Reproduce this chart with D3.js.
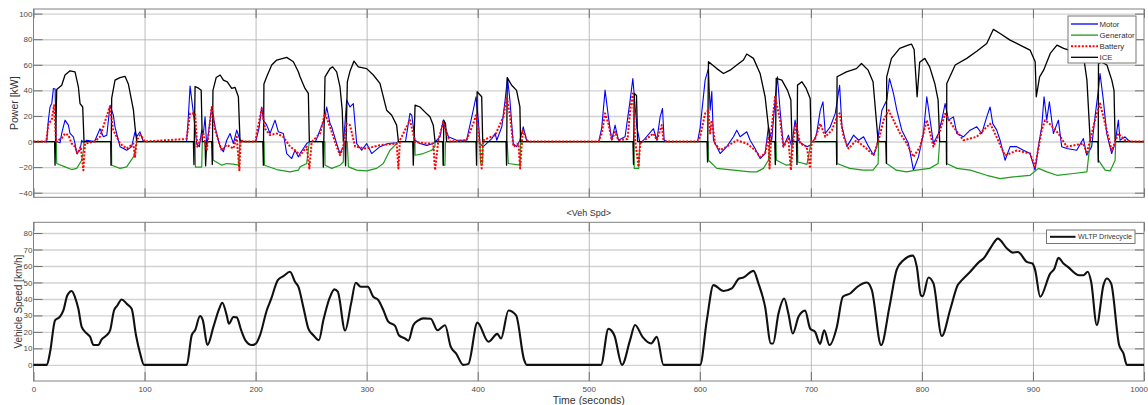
<!DOCTYPE html>
<html>
<head>
<meta charset="utf-8">
<script src="https://cdn.jsdelivr.net/npm/d3@7"></script>
<style>
  body { margin: 0; background: #fff; }
  text { font-family: "Liberation Sans", Arial, sans-serif; }
</style>
</head>
<body>
<svg id="chart" width="1148" height="405"></svg>
<script>
"use strict";

// ---- data: [time s, value] ----
const timeTicks = [0, 100, 200, 300, 400, 500, 600, 700, 800, 900, 1000];
const powerTicks = [-40, -20, 0, 20, 40, 60, 80, 100];
const speedTicks = [0, 10, 20, 30, 40, 50, 60, 70, 80];
const powerNames = ["Motor", "Generator", "Battery", "ICE"];

const motorData = [[0,0],[11.9,0],[13.4,16.7],[14.9,27],[16.5,30],[17.9,41.5],[19.5,41],[20.3,0],[23.9,-1],[25.4,6.3],[28.4,16.7],[31.4,12.8],[32.9,6.3],[35.9,3.7],[37.4,-1.6],[38.9,-9.4],[41.9,-6.8],[43.4,1],[44.9,-1],[47.9,1],[55,0],[59.9,10],[62.9,3.7],[66,5],[68.9,28.4],[71.9,20.6],[73.4,11.5],[77.9,-4],[83.9,-6.8],[88.4,-4],[91.4,7.6],[92.9,3.7],[95.9,7.6],[97.4,3.7],[98.9,0],
  [137.9,0],[139.5,20],[141,43.3],[144,22],[147,-1.6],[149.4,-4],[151.5,8.9],[153,6.3],[154.5,19.3],[156,-4],[158,10],[160.5,27],[163.5,11.5],[168,-4],[171,-8],[174,1],[177,6.3],[180,-1.6],[183,8.9],[186,1],[189,0],
  [200,0],[203,10],[205.5,27],[207,16.7],[210,12.8],[213,6.3],[217.5,16.7],[220.5,7.6],[225,6.3],[228,-9.4],[232.5,-13.3],[235.5,-6.8],[238.5,-12],[240,-9.4],[243,-5.5],[246,-1.6],[249,0],
  [254,0],[258,8.9],[262.5,19.3],[264,27],[267,14],[268.5,11.5],[273,-1.6],[276,-9.4],[279,-4],[282,32.4],[285,27],[288,29.7],[291,-1.6],[295.5,-6.8],[300,-1.6],[304.5,-9.4],[312,-4],[319.5,-1.6],[327,-1],[329,0],
  [335,0],[339,22],[340.6,20.6],[343.6,1],[348,-1.6],[354,-3],[360,-1.6],[366,3.7],[369,16.7],[370.6,11.5],[373.6,3.7],[381,1],[390,1],[396,24.5],[398.5,35],[400.6,16.7],[402,-1.6],[405,-4],[412.7,2.3],[415.7,6.3],[417.2,1],[421.7,11.5],[424.7,32.4],[426.8,50],[429,32.4],[432,-1.6],[435,-4],[438,1],[441,11.5],[444,1],[446,0],
  [509,0],[511.7,10.7],[514.7,40.2],[517.7,19.3],[520.7,1],[523.7,12.8],[526.7,1],[532.7,3.7],[537.3,32.4],[539.7,49.3],[543.3,11.5],[546.3,-1.6],[549.3,1],[558.3,10],[561.3,1],[564.3,19.3],[566.4,25.8],[567.9,1],[570,0],
  [598,0],[600.3,10.7],[604.8,48],[607.8,57],[609.3,24.5],[610.8,39],[612.3,1],[615.3,-4],[618.3,-9.4],[624.3,-4],[630.3,3.7],[633.3,8.9],[636.3,3.7],[642.3,7.6],[645.3,1],[649.8,-5.5],[654.3,-13.3],[658.8,-9.4],[661.8,11.5],[664.8,1],[667.8,32.4],[669.9,50.6],[672.3,24.5],[675.3,-4],[679.8,5],[682.8,-4],[685.8,16.7],[688.8,1],[691.8,-1.6],[696.3,-4],[699.3,-3],[700.8,0],
  [702,0],[705,5],[708.5,24.5],[710.9,31],[713,6.3],[717.5,11.5],[722,22],[725.9,44],[728,11.5],[732.5,-4],[738.5,5],[743,1],[747.5,3.7],[752,-4],[756.5,-10.7],[759.4,-4],[764,24.5],[768.4,32.4],[770.8,49.3],[774.4,37.6],[777.4,24.5],[781.9,8.9],[787.9,-1.6],[792.4,-22.4],[796.9,-12],[801.4,6.3],[804.4,35],[807.4,16.7],[810.4,-1.6],[814.9,6.3],[817.9,16.7],[820.9,29.7],[823.9,16.7],[828.4,19.3],[831.4,6.3],[837.4,3.7],[843.4,8.9],[849.4,11.5],[853.9,6.3],[858.4,19.3],[861.4,27],[863.8,14],[867.4,8.9],[870.4,1],[874.9,-14.6],[879.4,-4],[885.4,-4],[891.4,-6.8],[897.4,-9.4],[901.9,-22.4],[904.9,-4],[907.9,11.5],[910,35],[912.4,16.7],[914.8,31],[918.4,6.3],[922.9,16.7],[925.9,-4],[930.4,-5.5],[939.4,-6.8],[945.4,2.3],[948.4,-10.7],[952.9,-4],[955.9,19.3],[958.9,40.2],[960.4,53.2],[963.4,32.4],[966.4,6.3],[970.9,-9.4],[973.9,-1.6],[976.9,16.7],[978.4,1],[982.9,3.7],[985.9,1],[988,0],[1000,0]];

const generatorData = [[0,0],[20.5,0],[20.9,-17.2],[28.4,-19.8],[34.4,-21.9],[38.9,-21],[43.4,-14.6],[44.8,-8],[45.5,0],
  [70.2,0],[70.4,-18.5],[77.9,-21],[83.9,-19.8],[90,-12],[91.4,-8],[93,0],
  [145.5,0],[145.8,-20],[151.5,-20],[152,0],[161.5,0],[161.9,-14.6],[169.5,-18.5],[174,-17.2],[180,-17.7],[184.5,-18.5],[186,0],
  [207.5,0],[208,-18.5],[219,-21.9],[231,-23.7],[238.6,-22.4],[240,-19.8],[246,-17.2],[248.4,0],
  [262.4,0],[262.5,-18.5],[268.5,-21],[276,-18.5],[279,-16],[279.3,0],
  [282.5,0],[283.6,-19.8],[291,-22.4],[300,-23],[309,-21],[315,-17.2],[321,-6.8],[327,-1.6],[328.6,0],
  [343.5,0],[343.6,-10.7],[351,-9.4],[358.5,-6.8],[361.5,-4],[361.6,0],
  [368.8,0],[369,-18.5],[370.5,-18.5],[371,0],
  [402,0],[402.5,-17],[404.5,-17],[404.6,0],
  [426.5,0],[427.6,-17.2],[438,-18.5],[438.6,0],
  [540.5,0],[541,-21],[545,-21],[546,0],
  [607.5,0],[607.8,-14.6],[615.3,-21],[630.3,-22.4],[645.3,-23.7],[651.3,-23.7],[657.3,-21],[661.8,-14.6],[663,0],
  [668.5,0],[669,-14.6],[678,-18.5],[682,-18],[683,0],
  [688,0],[688.3,-16],[696.5,-17.8],[700.3,0],
  [723.5,0],[723.6,-17.2],[735,-21],[747,-22.4],[756,-22.4],[760.6,-17.2],[761,0],
  [768,0],[768.3,-17.2],[777,-22.4],[786,-23.7],[795,-22.4],[807,-21],[814.6,-17.2],[816,0],
  [822.3,0],[822.4,-17.2],[831.5,-21],[843.5,-22.4],[858.4,-26.4],[870.4,-29],[882.4,-27.7],[897.4,-26.4],[905,-21],[912.6,-23.7],[921.6,-26.4],[936.6,-25],[948.6,-23.7],[951.6,0],
  [958.8,0],[959,-14.6],[965,-22.4],[969.5,-23],[974,-14.6],[974.5,0],[1000,0]];

const batteryData = [[0,0],[11.5,0],[13.4,14],[16.4,16.7],[18.5,28.4],[20.3,0],[25.4,2.6],[28.4,6.3],[31.4,5],[34.4,-1.6],[37.4,-4],[39.5,-9.4],[42.5,-4],[44.9,-22.4],[46.4,-1.6],[55,0],[59.9,3.7],[68.6,27],[71.9,8.9],[77.9,-1.6],[83.9,-5.5],[89.9,-1.6],[91.4,-12],[92.9,1],[95.9,5],[98.9,2.3],[100,0],
  [137.9,2],[141,22],[145.5,22],[147.5,-4],[150,1],[153,6.3],[156,-7],[160.5,27],[163.5,8.9],[169.5,-7],[174,-2.6],[180,-5.5],[183,3.7],[185.4,-22.4],[186.5,1],[190,0],
  [200,0],[201,6.3],[205.5,25.8],[208.5,10],[213,5],[219,6.3],[225,3.7],[231,-4],[235.5,-6.8],[238.5,-9.4],
  [240,-11],[246,-4],[248.4,-21],[250.5,-0.3],[258,6.3],[262.5,22],[267,11.5],[273,-4],[276,-10.7],[279,-4],[282,14],[285,12.8],[289.6,-4],[300,-5.5],[312,-2.8],[327,-1.6],[328.6,-21],[330,1],[339,16.7],[343.6,-0.3],[354,-1.6],[360,-1.6],[361.6,-22.4],[364.6,1],[369,15.4],[372,6.3],[375,0],[390,1],[396,14],[398.5,20.6],[400.6,8.9],[402,-4],[403.6,-21],[405,1],[415.7,5],[423.2,19.3],[426.2,35],[429.2,19.3],[432.2,-4],[436.7,-1.6],[438.2,-21],[440.6,8.9],[444.2,1],[447,0],
  [509,0],[511.7,6.3],[514.7,22],[517.7,14],[520.7,1],[523.7,7.6],[526.7,1],[535,2],[537.3,24.5],[539.7,37.6],[541.8,1],[544.8,-19.8],[546.3,-1.6],[558.3,6.3],[561.3,1],[565.8,12.8],[567.3,1],[570,0],
  [598,0],[600.3,3.7],[604.8,22],[607.8,24.5],[609.3,6.3],[610.8,16.7],[613.8,-1.6],[618.3,-6.8],[624.3,-4],[633.3,1],[642.3,-1.6],[649.8,-6.8],[654.3,-12],[658.8,-9.4],[661.8,3.7],[662.8,-21],[664.8,11.5],[667.8,35],[672.3,16.7],[675.3,-4],[679.8,2.3],[682,-22.4],[684.3,1],[686.7,14],[690.3,-1.6],[696.3,-4],[699.3,-21],[700.8,1],[703,0],
  [708.5,14],[713,3.7],[719,8.9],[723.5,19.3],[725.9,22],[729.5,3.7],[734,-5.5],[741,1],[750,-5.5],[756.5,-10.7],[761,1],[765.5,16.7],[770,24.5],[774.4,16.7],[780.4,6.3],[786.4,-1.6],[792.4,-12],[798.4,-4],[804.4,16.7],[810.4,-4],[815.5,6.3],[820.9,21.7],[828.4,11.5],[837.4,1],[849.4,3.7],[861.4,14],[864.4,8.9],[874.9,-11],[885.4,-7],[897.4,-9.4],[901.9,-19.8],[907.9,8.9],[910.9,16.7],[914.8,14],[922.9,6.3],[930.4,-4],[945.4,-1.6],[948.4,-9.4],[955.9,16.7],[960.4,29.7],[965,14],[970.9,-7],[976.9,6.3],[982.9,1],[988,0],[1000,0]];

const iceData = [[0,0],[19,0],[19.4,-18.5],[20.9,40.7],[25.4,44],[28.4,52],[32.9,55.3],[37.4,54.5],[40.4,42.8],[41.9,29.7],[44.3,27],[45.5,0],
  [69.5,0],[69.8,-18.5],[70.4,33.7],[73.4,48],[77.9,50],[82.4,51],[85.4,45],[90,24.5],[91.4,11.5],[93,0],
  [144,0],[144.5,-18],[145.5,43],[148,42],[151,40],[152,0],[154.5,0],[155,-19],[156,0],[160.5,0],[161,-18],[161.6,40],[164.5,50],[168.1,52],[171,48],[174.5,46.7],[178.5,41.5],[181.5,42.3],[184.5,35],[186,0],
  [206.5,0],[207,-18.5],[207.5,45],[210,50.6],[214.5,59.8],[219,63.7],[228,65.8],[234,62.4],[238.5,54.5],[240,50.6],[244.5,41.5],[247.5,37.6],[248.4,0],
  [260.5,0],[261,-20],[262.5,50.6],[267,57],[269.4,58.4],[273,54.5],[276,42.8],[278,24.5],[279,0],
  [280.5,0],[281,-19],[282.6,46.7],[285,55],[288.6,62.9],[292.5,58.4],[300,57],[306,52],[312,45.4],[318,24.5],[322.6,20.6],[327,12.8],[328.6,0],
  [341.5,0],[342,-18.5],[343.6,28.4],[348,27],[352.6,23],[357,19.3],[360,12.8],[361.6,0],
  [368.5,0],[369,-18.5],[369.5,16.7],[371,14],[372,0],
  [398.5,0],[399,-18.5],[399.5,38.9],[403.6,35],[404.5,0],
  [425.5,0],[426,-18.5],[426.6,50],[430.6,44],[435,40],[438,27],[438.6,0],
  [539.8,0],[540.3,-18],[541,37.6],[543,36],[544,0],
  [606.5,0],[607,-16],[607.8,62.4],[615.3,57],[621.3,53.2],[627.3,55.8],[633.3,59.8],[639.3,63.7],[642.3,68.4],[648.3,65],[654.3,53.2],[658.8,35],[661.8,11.5],[663,0],
  [667.5,0],[668,-18],[668.8,49.3],[673.9,48],[679,40],[682,32.4],[683,0],
  [687,0],[687.5,-18],[688,44.1],[692,46.7],[695.8,41.5],[699.4,33.7],[700.3,0],
  [723,0],[723.3,-18],[723.6,50.6],[732,54.5],[741,57],[745.6,61],[751.6,55.8],[756,46.7],[760.6,0],
  [767.5,0],[768,-17],[768.3,50.6],[772.6,65],[780,72.8],[787.6,75.4],[790.6,76.2],[793,72],[795.7,35],[798,62],[802.6,65],[807,58.4],[811.6,45.4],[814.6,32.4],[816,0],
  [822,0],[822.2,-18],[822.4,45.4],[830,59.8],[840.4,65],[849.4,70.5],[858.4,76.7],[864.4,87.7],[870.4,84.5],[879.4,79.3],[888.4,75.4],[897.4,71.5],[902,62.4],[903,35],[906,50.6],[909.6,55.8],[915.6,68.9],[921.6,75.4],[927.6,72.8],[936.6,70.2],[945.6,66.3],[948.6,48],[951.6,0],
  [958.5,0],[958.8,-16],[959,61],[962,62],[966.6,59.8],[971,48],[973,40],[974,0],[1000,0]];

const speedData = [[0,0],[12,0],[15,8],[19.4,27],[23.9,29.2],[26.9,33],[30.5,42.3],[34.4,44.8],[37.4,41],[40.4,34],[43.4,23],[48,19],[51,17],[54,12],[58.4,12],[61.4,15.5],[66,18],[69,21],[72.5,33],[75.5,36],[79.4,39.7],[84,37],[88.4,34],[92.3,18],[96,7],[99.5,0],
  [138,0],[142.5,18],[145.5,21],[150,29.6],[152.5,27],[156.6,12],[162,23],[167,33.7],[170,37.7],[174,30],[176,25],[180,29],[183,28.8],[187,21],[191,14.7],[196.5,12],[200,12.7],[204,18],[210,33],[214,40],[220,51.4],[225,53.8],[231,56.5],[235.5,50.4],[238.5,47.4],[243,35],[247.5,22],[252,18],[257,15],[261,27],[266.5,40.3],[271,45.8],[274,44.4],[280.6,20.8],[286,37.3],[290.2,49.8],[294.7,47.4],[301,47.4],[306,41.3],[310.5,39.3],[315,33.3],[319.5,26.2],[325.6,23.6],[329,18],[334.5,16],[337.6,14.7],[342,24],[346.6,27],[351,28.2],[357.7,28],[363.7,21],[370.6,24],[375.7,11],[380.5,7],[387,0],[391.6,0.6],[399.7,25.6],[409.6,14],[417.7,18.8],[421,16],[427.7,33],[434.6,30],[441.8,3],[444.2,0],
  [511,0],[517.7,21.8],[523,18],[530,0],[537.2,15],[541.7,24.2],[548.4,17],[556.2,13],[561.3,17],[567.3,0],
  [600.3,0],[606.3,27],[612.3,48.4],[621.3,44.8],[628.8,46.4],[635.4,52.4],[639.3,53],[648.3,57],[652.8,49.4],[658.8,35.3],[664,13],[666,13],[670.8,31],[676,40.3],[679.8,31],[683.7,19],[688.9,29.2],[694.8,32.9],[699.4,22],[703.8,20],[708.3,12.7],[712,21],[716.8,12],[723.4,23],[728.8,41.3],[735.4,43.3],[742,47.4],[750.4,50],[754.9,45.4],[763.3,12],[770.8,35.3],[777.4,57.9],[783.4,63.5],[791.8,66.3],[795.4,59.5],[799,42.3],[800.8,41.7],[805.9,53],[810.4,49.4],[817.9,17.5],[825.4,33.3],[832.3,48.4],[836,51.4],[843.5,56.5],[851.6,62.5],[855.5,64.5],[862.4,71.6],[868.4,76.6],[876.6,70.6],[881.7,68.1],[886.4,68.5],[894.5,62.5],[899.6,61.5],[902,57.5],[906.5,41.3],[915.5,55.4],[919.4,58.5],[923,64.9],[927.5,61.5],[931.4,59.5],[941.6,54.4],[945.5,54.4],[949.4,56.5],[952.4,50.4],[957.5,24.2],[963.5,48.4],[966.5,52.4],[970.4,49.4],[977.6,12],[981.5,7],[984.5,0],[1000,0]];

// ---- layout ----
const svg = d3.select("#chart");
const left = 33.5, right = 1144;
const top1 = { y0: 9, y1: 197.3 };
const top2 = { y0: 222.3, y1: 381 };

const x = d3.scaleLinear().domain([0, 1000]).range([left, right]);
const yP = d3.scaleLinear().domain([-43.6, 103.6]).range([top1.y1, top1.y0]);
const yS = d3.scaleLinear().domain([-9.8, 86.5]).range([top2.y1, top2.y0]);

const colors = { Motor: "#0000ff", Generator: "#1f9a1f", Battery: "#ff0000", ICE: "#000000" };

// draws the box, grid and ticks of one panel
const drawPanel = (y, box, yTicks, showTimeLabels) => {
  const w = right - left, h = box.y1 - box.y0;
  const g = svg.append("g");

  // horizontal grid
  g.append("g")
    .attr("transform", "translate(" + left + ",0)")
    .call(d3.axisLeft(y).tickValues(yTicks).tickSize(-w).tickFormat(""))
    .call((s) => s.select(".domain").remove())
    .selectAll("line").attr("stroke", "#d2d2d2").attr("stroke-width", 1.4);

  // vertical grid
  g.append("g")
    .attr("transform", "translate(0," + box.y1 + ")")
    .call(d3.axisBottom(x).tickValues(timeTicks.slice(1, -1)).tickSize(-h).tickFormat(""))
    .call((s) => s.select(".domain").remove())
    .selectAll("line").attr("stroke", "#b4b4b4").attr("stroke-width", 0.9);

  // inward ticks with labels
  const yl = g.append("g")
    .attr("transform", "translate(" + left + ",0)")
    .call(d3.axisLeft(y).tickValues(yTicks).tickSize(-9).tickPadding(1));
  yl.select(".domain").remove();
  yl.selectAll("line").attr("stroke", "#707070");
  yl.selectAll("text").attr("fill", "#4a4a4a").style("font-size", "8px");

  const yr = g.append("g")
    .attr("transform", "translate(" + right + ",0)")
    .call(d3.axisRight(y).tickValues(yTicks).tickSize(-9).tickFormat(""));
  yr.select(".domain").remove();
  yr.selectAll("line").attr("stroke", "#707070");

  const xb = g.append("g")
    .attr("transform", "translate(0," + box.y1 + ")")
    .call(d3.axisBottom(x).tickValues(timeTicks).tickSize(-9).tickPadding(5)
      .tickFormat(showTimeLabels ? d3.format("d") : ""));
  xb.select(".domain").remove();
  xb.selectAll("line").attr("stroke", "#707070");
  xb.selectAll("text").attr("fill", "#4a4a4a").style("font-size", "8px");
  // keep the last label inside the page
  xb.selectAll("text").filter((d) => d === 1000).attr("text-anchor", "end").attr("dx", 3.5);

  const xt = g.append("g")
    .attr("transform", "translate(0," + box.y0 + ")")
    .call(d3.axisTop(x).tickValues(timeTicks).tickSize(-9).tickFormat(""));
  xt.select(".domain").remove();
  xt.selectAll("line").attr("stroke", "#707070");

  g.append("rect")
    .attr("x", left).attr("y", box.y0)
    .attr("width", w).attr("height", h)
    .attr("fill", "none").attr("stroke", "#808080").attr("stroke-width", 1);
};

drawPanel(yP, top1, powerTicks, false);
drawPanel(yS, top2, speedTicks, true);

// ---- power lines ----
const powerLine = d3.line().x((d) => x(d[0])).y((d) => yP(d[1]));
const plotArea = svg.append("g");

const seriesOrder = [
  { name: "Motor", data: motorData, width: 1.1, dash: null },
  { name: "Generator", data: generatorData, width: 1.2, dash: null },
  { name: "ICE", data: iceData, width: 1.3, dash: null },
  { name: "Battery", data: batteryData, width: 2, dash: "2,1.6" }
];

seriesOrder.forEach((s) => {
  plotArea.append("path")
    .datum(s.data)
    .attr("d", powerLine)
    .attr("fill", "none")
    .attr("stroke", colors[s.name])
    .attr("stroke-width", s.width)
    .attr("stroke-dasharray", s.dash)
    .attr("stroke-linejoin", "round");
});

// ---- speed line ----
const speedLine = d3.line().x((d) => x(d[0])).y((d) => yS(d[1])).curve(d3.curveMonotoneX);
svg.append("path")
  .datum(speedData)
  .attr("d", speedLine)
  .attr("fill", "none")
  .attr("stroke", "#111")
  .attr("stroke-width", 2.1)
  .attr("stroke-linejoin", "round");

// ---- labels ----
svg.append("text")
  .attr("transform", "translate(17.5," + (top1.y0 + top1.y1) / 2 + ") rotate(-90)")
  .attr("text-anchor", "middle")
  .style("font-size", "10.5px").attr("fill", "#333")
  .text("Power [kW]");

svg.append("text")
  .attr("transform", "translate(21.5," + (top2.y0 + top2.y1) / 2 + ") rotate(-90)")
  .attr("text-anchor", "middle")
  .style("font-size", "10px").attr("fill", "#333")
  .text("Vehicle Speed [km/h]");

svg.append("text")
  .attr("x", (left + right) / 2).attr("y", 216)
  .attr("text-anchor", "middle")
  .style("font-size", "9px").attr("fill", "#333")
  .text("<Veh Spd>");

svg.append("text")
  .attr("x", (left + right) / 2).attr("y", 404)
  .attr("text-anchor", "middle")
  .style("font-size", "10.5px").attr("fill", "#333")
  .text("Time (seconds)");

// ---- legends ----
const legend1 = svg.append("g").attr("transform", "translate(1068,16)");
legend1.append("rect")
  .attr("width", 68).attr("height", 47)
  .attr("fill", "#fff").attr("stroke", "#777").attr("stroke-width", 1);

const legItems = legend1.selectAll("g.item")
  .data(powerNames)
  .enter()
  .append("g")
  .attr("class", "item")
  .attr("transform", (d, i) => "translate(0," + (8 + i * 11.1) + ")");

legItems.append("line")
  .attr("x1", 3).attr("x2", 30)
  .attr("stroke", (d) => colors[d])
  .attr("stroke-width", (d) => (d === "Battery" ? 2 : 1.3))
  .attr("stroke-dasharray", (d) => (d === "Battery" ? "2,1.6" : null));

legItems.append("text")
  .attr("x", 31.5).attr("dy", "0.33em")
  .style("font-size", "7.8px").attr("fill", "#333")
  .text((d) => d);

const legend2 = svg.append("g").attr("transform", "translate(1046.5,230)");
legend2.append("rect")
  .attr("width", 88.5).attr("height", 13.5)
  .attr("fill", "#fff").attr("stroke", "#777").attr("stroke-width", 1);
legend2.append("line")
  .attr("x1", 3.5).attr("x2", 29).attr("y1", 6.8).attr("y2", 6.8)
  .attr("stroke", "#111").attr("stroke-width", 2);
legend2.append("text")
  .attr("x", 31.5).attr("y", 6.8).attr("dy", "0.33em")
  .attr("textLength", 54).attr("lengthAdjust", "spacingAndGlyphs")
  .style("font-size", "7.6px").attr("fill", "#333")
  .text("WLTP Drivecycle");
</script>
</body>
</html>
